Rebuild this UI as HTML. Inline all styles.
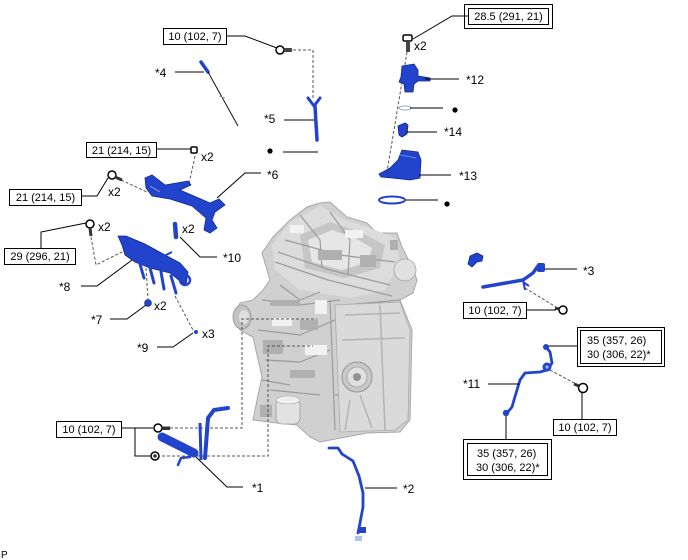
<!DOCTYPE html>
<html><head><meta charset="utf-8"><style>
html,body{margin:0;padding:0;background:#fff;}
svg{display:block;}
text{font-family:"Liberation Sans",Arial,sans-serif;fill:#000;}
.b{font-size:11px;}
.l{font-size:12px;}
.ln{stroke:#000;stroke-width:1;fill:none;}
.ds{stroke:#555;stroke-width:1;fill:none;stroke-dasharray:3,2;}
.bl{fill:#2244cc;stroke:#10288a;stroke-width:0.8;}
.bp{fill:none;stroke:#2244cc;stroke-linecap:round;stroke-linejoin:round;}
.box{fill:#fff;stroke:#000;stroke-width:1;}
</style></head><body>
<svg width="688" height="560" viewBox="0 0 688 560" xmlns="http://www.w3.org/2000/svg">
<rect width="688" height="560" fill="#fff"/>

<!-- ENGINE -->
<g>
<polygon points="320,203 330,202 347,217 367,223 377,233 397,233 402,247 412,267 417,280 413,293 400,300 412,330 410,420 400,432 367,433 320,442 310,437 297,425 277,423 253,420 257,400 262,377 253,337 240,330 233,317 240,303 253,300 263,290 270,280 262,253 273,237 290,220 307,207" fill="#d0d0d0" stroke="#a8a8a8" stroke-width="1"/>
<polygon points="290,222 320,206 345,220 370,228 395,238 400,262 385,290 350,298 300,290 275,270 272,245" fill="#dcdcdc"/>
<polygon points="300,235 330,222 360,232 385,245 380,268 345,278 305,268" fill="#c6c6c6"/>
<polygon points="308,240 332,230 355,238 372,248 368,262 342,270 312,262" fill="#e6e6e6"/>
<g stroke="#9c9c9c" stroke-width="1.2" fill="none">
<path d="M278,252 L330,270 L390,285"/>
<path d="M275,262 L328,280 L392,296"/>
<path d="M285,240 L340,255 L395,262"/>
<path d="M300,215 L320,240 L322,268"/>
<path d="M330,212 L350,240 L348,275"/>
<path d="M262,300 L300,305 L340,300"/>
<path d="M258,330 L300,335 L335,320"/>
<path d="M265,360 L300,362 L330,350"/>
<path d="M330,300 L335,430"/>
<path d="M345,305 L400,300"/>
<path d="M335,395 L405,395"/>
<path d="M340,410 L405,410"/>
<path d="M385,340 L395,430"/>
<path d="M270,390 L320,395"/>
<path d="M280,285 L300,300 L320,292"/>
<path d="M262,380 L290,385"/>
</g>
<polygon points="335,305 400,302 410,330 408,420 395,430 340,432" fill="#dadada" stroke="#ababab" stroke-width="0.8"/>
<g stroke="#b3b3b3" stroke-width="1.5" fill="none">
<path d="M345,315 L400,313"/>
<path d="M342,340 L405,338"/>
<path d="M380,305 L385,430"/>
<path d="M360,395 L372,428"/>
<path d="M350,400 L345,430"/>
</g>
<circle cx="357" cy="377" r="15" fill="#c8c8c8" stroke="#969696" stroke-width="1"/>
<circle cx="357" cy="377" r="10" fill="#e0e0e0" stroke="#a3a3a3" stroke-width="0.8"/>
<circle cx="357" cy="377" r="4" fill="#929292"/>
<circle cx="405" cy="270" r="11" fill="#e0e0e0" stroke="#a5a5a5" stroke-width="0.8"/>
<ellipse cx="242" cy="317" rx="9" ry="12" fill="#c2c2c2" stroke="#939393" stroke-width="0.8"/>
<ellipse cx="244" cy="317" rx="5" ry="7" fill="#e0e0e0"/>
<rect x="276" y="398" width="24" height="26" rx="6" fill="#e2e2e2" stroke="#9a9a9a" stroke-width="0.8"/>
<ellipse cx="288" cy="400" rx="12" ry="4" fill="#efefef" stroke="#a5a5a5" stroke-width="0.6"/>
<g fill="#b0b0b0">
<rect x="270" y="300" width="30" height="6"/>
<rect x="263" y="340" width="20" height="14"/>
<rect x="300" y="320" width="18" height="10"/>
<rect x="290" y="370" width="25" height="8"/>
<rect x="260" y="405" width="12" height="12"/>
<rect x="318" y="250" width="24" height="10"/>
<rect x="360" y="255" width="16" height="12"/>
<rect x="390" y="240" width="8" height="10"/>
</g>
<g fill="#f2f2f2">
<rect x="305" y="345" width="22" height="10"/>
<rect x="272" y="318" width="20" height="8"/>
<rect x="315" y="300" width="12" height="14"/>
<rect x="345" y="230" width="18" height="8"/>
<rect x="290" y="225" width="14" height="8"/>
</g>
</g>

<!-- DASHED LINES -->
<path class="ds" d="M293,50 L313,50 L313,100"/>
<path class="ds" d="M195,156 L189,184"/>
<path class="ds" d="M121,180 L147,192"/>
<path class="ds" d="M91,237 L96,265 L142,242"/>
<path class="ds" d="M146,268 L148,299"/>
<path class="ds" d="M175,296 L193,330"/>
<path class="ds" d="M407,52 L387,172"/>
<path class="ds" d="M525,288 L556,307"/>
<path class="ds" d="M550,370 L576,384"/>
<path class="ds" d="M170,428 L242,428 L242,319 L317,319"/>
<path class="ds" d="M162,456 L268,456 L268,346 L313,346"/>

<!-- TOP LEFT -->
<rect class="box" x="163.5" y="28.5" width="63" height="16"/>
<text class="b" x="195" y="40" text-anchor="middle">10 (102, 7)</text>
<path class="ln" d="M227,36 L245,36 L277,48"/>
<circle cx="280" cy="50" r="4" fill="#fff" stroke="#000" stroke-width="1.5"/>
<rect x="284" y="48" width="8" height="4" fill="#444"/>

<text class="l" x="155" y="77">*4</text>
<path class="ln" d="M175,72 L204,72"/>
<path d="M201,62 L208,72" stroke="#2244cc" stroke-width="3.5" stroke-linecap="round"/>
<path d="M208,72 L238,126" stroke="#111" stroke-width="1"/>
<path d="M219,96 L225,98" stroke="#999" stroke-width="1"/>

<text class="l" x="264" y="123">*5</text>
<path class="ln" d="M284,120 L315,120"/>
<path class="bp" d="M308,98 L314,106 L320,98" stroke-width="3"/>
<path class="bp" d="M315,106 L317,140" stroke-width="3.5"/>
<circle cx="270" cy="151" r="2.6" fill="#000"/>
<path class="ln" d="M283,152 L318,152"/>

<!-- 21 top -->
<rect class="box" x="86.5" y="142.5" width="70" height="15"/>
<text class="b" x="121.5" y="154" text-anchor="middle">21 (214, 15)</text>
<path class="ln" d="M157,149 L191,149"/>
<rect x="191" y="147" width="6" height="6" rx="1" fill="#fff" stroke="#000" stroke-width="1.5"/>
<text class="l" x="201" y="161">x2</text>

<!-- 21 lower -->
<rect class="box" x="9.5" y="189.5" width="72" height="16"/>
<text class="b" x="45.5" y="201" text-anchor="middle">21 (214, 15)</text>
<path class="ln" d="M82,196 L97,196 L108,178"/>
<circle cx="112" cy="175" r="4" fill="#fff" stroke="#000" stroke-width="1.5"/>
<path d="M115,177 L122,180" stroke="#333" stroke-width="3"/>
<text class="l" x="108" y="196">x2</text>

<!-- *6 bracket -->
<polygon class="bl" points="145,178 152,175 165,185 188,181 191,185 180,190 210,203 219,199 225,205 215,212 212,220 217,228 210,233 204,230 206,218 192,206 170,199 152,196 146,188"/>
<path d="M150,186 L160,192" stroke="#8ea0e8" stroke-width="1"/>
<text class="l" x="267" y="179">*6</text>
<path class="ln" d="M261,173 L245,173 L217,198"/>

<!-- 29 -->
<rect class="box" x="4.5" y="248.5" width="71" height="16"/>
<text class="b" x="40" y="260" text-anchor="middle">29 (296, 21)</text>
<path class="ln" d="M41,248 L41,232 L86,223"/>
<circle cx="90" cy="224" r="4" fill="#fff" stroke="#000" stroke-width="1.5"/>
<path d="M90,228 L91,236" stroke="#333" stroke-width="3"/>
<text class="l" x="98" y="231">x2</text>

<!-- *8 rail -->
<polygon class="bl" points="118,236 126,236 145,244 165,255 180,263 188,272 186,285 180,281 170,273 150,268 135,262 125,255 122,245"/>
<g class="bp" stroke-width="3">
<path d="M140,264 L144,278"/>
<path d="M150,268 L154,283"/>
<path d="M161,272 L164,289"/>
<path d="M171,276 L176,293"/>
</g>
<path d="M160,258 L172,252" stroke="#2244cc" stroke-width="2"/>
<circle cx="185" cy="280" r="5" fill="none" stroke="#2244cc" stroke-width="2.5"/>
<text class="l" x="59" y="291">*8</text>
<path class="ln" d="M81,286 L97,286 L132,260"/>

<!-- *10 -->
<path d="M175,224 L176,237" stroke="#2244cc" stroke-width="4.5" stroke-linecap="round"/>
<text class="l" x="182" y="233">x2</text>
<path class="ln" d="M180,237 L200,257 L217,257"/>
<text class="l" x="223" y="262">*10</text>

<!-- *7 -->
<circle cx="148" cy="303" r="3.5" fill="#2244cc" stroke="#10288a" stroke-width="0.6"/>
<text class="l" x="154" y="310">x2</text>
<text class="l" x="91" y="324">*7</text>
<path class="ln" d="M110,319 L127,319 L146,305"/>

<!-- *9 -->
<circle cx="196" cy="332" r="2" fill="#2244cc"/>
<text class="l" x="202" y="338">x3</text>
<text class="l" x="137" y="352">*9</text>
<path class="ln" d="M157,347 L173,347 L193,333"/>

<!-- TOP RIGHT -->
<rect class="box" x="464.5" y="4.5" width="88" height="24"/>
<rect class="box" x="468.5" y="8.5" width="80" height="16"/>
<text class="b" x="508.5" y="20" text-anchor="middle">28.5 (291, 21)</text>
<path class="ln" d="M468,16 L452,16 L413,39"/>
<rect x="403" y="35" width="9" height="6" rx="1.5" fill="#fff" stroke="#000" stroke-width="1.5"/>
<rect x="406" y="41" width="4" height="11" fill="#444"/>
<text class="l" x="414" y="50">x2</text>

<polygon class="bl" points="402,66 414,64 418,70 418,76 430,78 430,81 418,81 414,84 413,92 405,92 404,84 399,82 401,77"/>
<text class="l" x="466" y="84">*12</text>
<path class="ln" d="M425,79 L459,79"/>
<ellipse cx="405" cy="108" rx="6" ry="2" fill="none" stroke="#9aa4c8" stroke-width="1"/>
<path class="ln" d="M410,108 L443,108"/>
<circle cx="455" cy="110" r="2.6" fill="#000"/>
<polygon class="bl" points="398,126 405,123 408,125 407,134 402,137 399,135"/>
<path class="ln" d="M406,132 L437,132"/>
<text class="l" x="444" y="136">*14</text>
<polygon class="bl" points="379,174 390,168 398,160 402,150 418,152 421,160 420,178 410,180 392,178 381,177"/>
<path d="M400,155 L416,158" stroke="#6d86e6" stroke-width="1"/>
<path class="ln" d="M419,175 L451,175"/>
<text class="l" x="459" y="180">*13</text>
<ellipse cx="392" cy="200" rx="13" ry="3.5" fill="none" stroke="#2244cc" stroke-width="2"/>
<path class="ln" d="M406,200 L438,200"/>
<circle cx="447" cy="204" r="2.6" fill="#000"/>

<!-- *3 -->
<polygon class="bl" points="468,264 470,256 477,253 483,256 482,261 477,262 472,267"/>
<path class="bp" d="M483,287 L500,284 L523,280 L533,273 L538,266" stroke-width="3.5"/>
<rect x="537" y="263" width="8" height="9" rx="2" fill="#2244cc"/>
<path d="M523,280 L525,290 M523,282 L529,286" stroke="#2244cc" stroke-width="2"/>
<path class="ln" d="M545,269 L577,269"/>
<text class="l" x="583" y="275">*3</text>

<rect class="box" x="463.5" y="302.5" width="63" height="16"/>
<text class="b" x="495" y="314" text-anchor="middle">10 (102, 7)</text>
<path class="ln" d="M526,310 L556,310"/>
<circle cx="563" cy="310" r="4" fill="#fff" stroke="#000" stroke-width="1.5"/>
<path d="M555,308 L559,309" stroke="#333" stroke-width="3"/>

<!-- *11 -->
<rect class="box" x="577.5" y="327.5" width="87" height="39"/>
<rect class="box" x="580.5" y="330.5" width="81" height="33"/>
<text class="b" x="587" y="344">35 (357, 26)</text>
<text class="b" x="587" y="358">30 (306, 22)*</text>
<path class="ln" d="M577,346 L548,346"/>
<path class="bp" d="M546,347 L550,352 L552,363 L547,370 L540,372 L525,373 L520,380 L514,400 L512,407 L507,413" stroke-width="2.8"/>
<circle cx="547" cy="367" r="4.5" fill="#2244cc"/>
<circle cx="547" cy="367" r="1.6" fill="#9fb0f0"/>
<circle cx="506" cy="413" r="3.2" fill="#2244cc"/>
<circle cx="546" cy="347" r="3" fill="#2244cc"/>
<text class="l" x="463" y="388">*11</text>
<path class="ln" d="M488,384 L519,384"/>
<circle cx="583" cy="388" r="4.5" fill="#fff" stroke="#000" stroke-width="1.5"/>
<path d="M574,384 L579,386" stroke="#333" stroke-width="3"/>
<path class="ln" d="M582,393 L582,419"/>
<rect class="box" x="553.5" y="419.5" width="63" height="16"/>
<text class="b" x="585" y="431" text-anchor="middle">10 (102, 7)</text>
<path class="ln" d="M506,416 L506,443"/>
<rect class="box" x="463.5" y="439.5" width="88" height="40"/>
<rect class="box" x="467.5" y="443.5" width="80" height="32"/>
<text class="b" x="477" y="457">35 (357, 26)</text>
<text class="b" x="476" y="471">30 (306, 22)*</text>

<!-- BOTTOM LEFT -->
<rect class="box" x="56.5" y="421.5" width="65" height="16"/>
<text class="b" x="89" y="433" text-anchor="middle">10 (102, 7)</text>
<path class="ln" d="M121,428 L153,428 M135,428 L135,456 L151,456"/>
<circle cx="158" cy="428" r="4" fill="#fff" stroke="#000" stroke-width="1.5"/>
<rect x="162" y="426.5" width="8" height="3.5" fill="#333"/>
<circle cx="155" cy="456" r="4" fill="#fff" stroke="#000" stroke-width="1.5"/>
<circle cx="155" cy="456" r="1.8" fill="#333"/>

<!-- *1 -->
<path class="bp" d="M228,408 L214,410 L208,418 L205,458" stroke-width="4"/>
<path d="M200,423 L201,460" stroke="#2244cc" stroke-width="3"/>
<path class="bp" d="M162,437 L194,453" stroke-width="9"/>
<path class="bp" d="M178,465 L181,458 L190,457" stroke-width="2.5"/>
<path class="ln" d="M196,457 L227,487 L243,487"/>
<text class="l" x="252" y="492">*1</text>

<!-- *2 -->
<path class="bp" d="M329,448 L338,448 L342,454 L353,461 L359,476 L363,493 L363,507 L360,523 L358,533" stroke-width="2.8"/>
<rect x="358" y="527" width="8" height="6" fill="#2244cc"/>
<rect x="355" y="536" width="7" height="5" fill="#a8c4e8"/>
<path class="ln" d="M365,488 L397,488"/>
<text class="l" x="403" y="493">*2</text>

<text x="1" y="558" style="font-size:10px">P</text>
</svg>
</body></html>
